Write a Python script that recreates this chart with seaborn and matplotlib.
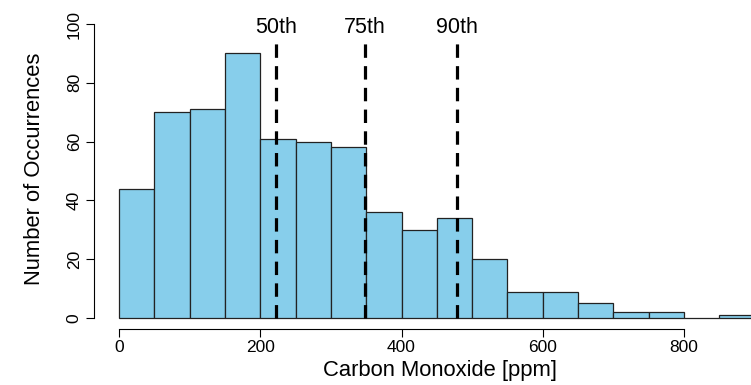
import numpy as np
import pandas as pd
import matplotlib
matplotlib.use("Agg")
import matplotlib.pyplot as plt
import seaborn as sns

# ---- data ----
bin_edges = [0, 50, 100, 150, 200, 250, 300, 350, 400, 450, 500, 550, 600,
             650, 700, 750, 800, 850, 900]
counts = [44, 70, 71, 90, 61, 60, 58, 36, 30, 34, 20, 9, 9, 5, 2, 2, 0, 1]
percentile_labels = ["50th", "75th", "90th"]
percentile_values = [223, 348, 478]
x_ticks = [0, 200, 400, 600, 800]
y_ticks = [0, 20, 40, 60, 80, 100]

sns.set_style("white")
plt.rcParams["font.family"] = ["Liberation Sans", "DejaVu Sans"]
plt.rcParams["text.color"] = "black"
plt.rcParams["axes.labelcolor"] = "black"
plt.rcParams["xtick.color"] = "black"
plt.rcParams["ytick.color"] = "black"

fig = plt.figure(figsize=(7.51, 3.85), dpi=100)
ax = fig.add_axes([94 / 751, 56 / 385, (786 - 94) / 751, (329 - 9.3) / 385])

centers = [(a + b) / 2 for a, b in zip(bin_edges[:-1], bin_edges[1:])]
df = pd.DataFrame({"co": centers, "n": counts})
sns.histplot(data=df, x="co", weights="n", bins=bin_edges, color="#87CEEB",
             edgecolor="#222222", linewidth=0.9, alpha=1, ax=ax, legend=False)

ax.set_xlim(-35.4, 944.4)
ax.set_ylim(-3.74, 105)

for lab, v in zip(percentile_labels, percentile_values):
    ax.plot([v, v], [0, 94.6], color="black", lw=2.3,
            linestyle=(0, (4.2, 2.6)), clip_on=False, zorder=5)
    ax.text(v, 96.9, lab, ha="center", va="baseline", fontsize=15.5,
            color="black", clip_on=False)

for s in ["top", "right"]:
    ax.spines[s].set_visible(False)
ax.spines["left"].set_bounds(0, 100)
ax.spines["bottom"].set_bounds(0, 800)
for s in ["left", "bottom"]:
    ax.spines[s].set_color("black")
    ax.spines[s].set_linewidth(0.8)

ax.set_xticks(x_ticks)
ax.set_yticks(y_ticks)
ax.tick_params(axis="both", direction="out", length=5.8, width=0.8,
               color="black", labelcolor="black", labelsize=12.5,
               bottom=True, left=True)
ax.tick_params(axis="x", pad=2)
ax.tick_params(axis="y", pad=3)
for t in ax.get_yticklabels():
    t.set_rotation(90)
    t.set_va("center")

ax.set_xlabel("Carbon Monoxide [ppm]", fontsize=15.8, labelpad=4,
              color="black")
ax.set_ylabel("Number of Occurrences", fontsize=15.8, labelpad=16,
              color="black")

fig.savefig("out.png", dpi=100)
